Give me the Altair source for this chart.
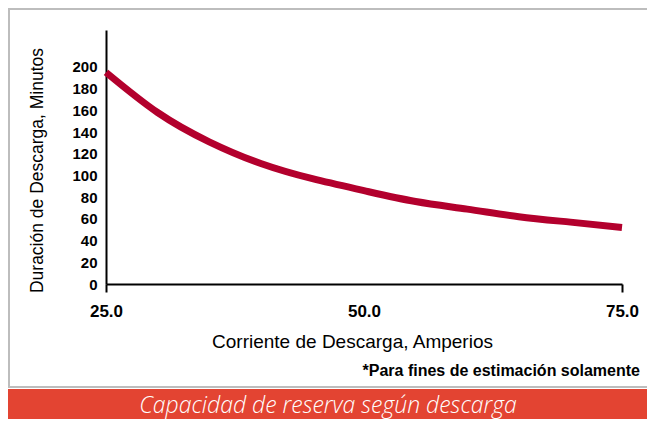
import altair as alt
import pandas as pd

corriente = [25, 30, 35, 40, 45, 50, 55, 60, 65, 70, 75]
minutos = [195, 158, 131, 111, 97, 86, 76, 69, 62, 57, 52]
y_ticks = list(range(0, 201, 20))
x_ticks = [25, 50, 75]
x_title = "Corriente de Descarga, Amperios"
y_title = "Duración de Descarga, Minutos"
footnote = "*Para fines de estimación solamente"
banner = "Capacidad de reserva según descarga"

df = pd.DataFrame({"corriente": corriente, "minutos": minutos})
one = pd.DataFrame({"t": [0]})

W, H = 516, 254
FONT = "Liberation Sans"

line = alt.Chart(df).mark_line(
    color="#B3002D", strokeWidth=7, interpolate="natural", strokeCap="butt"
).encode(
    x=alt.X(
        "corriente:Q",
        scale=alt.Scale(domain=[25, 75], nice=False, zero=False),
        axis=alt.Axis(
            values=x_ticks, format=".1f", title=x_title, labelFlush=False,
            labelFont=FONT, labelFontWeight="bold", labelFontSize=17, labelColor="#000",
            labelPadding=11, tickSize=8, tickWidth=2, tickColor="#000",
            tickOpacity={"condition": {"test": "datum.value == 50", "value": 0}, "value": 1},
            domainColor="#000", domainWidth=2, grid=False,
            titleFont=FONT, titleFontWeight="normal", titleFontSize=19, titleColor="#000",
            titleX=246, titleY=57, titleBaseline="middle", titleAlign="center",
        ),
    ),
    y=alt.Y(
        "minutos:Q",
        scale=alt.Scale(domain=[0, 234], nice=False),
        axis=alt.Axis(
            values=y_ticks, title=y_title,
            labelFont=FONT, labelFontWeight="bold", labelFontSize=15, labelColor="#000",
            labelPadding=9, ticks=False, tickSize=0,
            domainColor="#000", domainWidth=2, grid=False,
            titleFont=FONT, titleFontWeight="normal", titleFontSize=17.5, titleColor="#000",
            titleX=-69, titleY=140, titleBaseline="middle", titleAlign="center", titleAngle=270,
        ),
    ),
)

banner_rect = alt.Chart(one).mark_rect(color="#E34432").encode(
    x=alt.value(-102), x2=alt.value(560), y=alt.value(359), y2=alt.value(400)
)

top_rule = alt.Chart(one).mark_rule(color="#BDBDBD", strokeWidth=2).encode(
    x=alt.value(-98), x2=alt.value(560), y=alt.value(-21)
)
left_rule = alt.Chart(one).mark_rule(color="#BDBDBD", strokeWidth=2).encode(
    x=alt.value(-97), y=alt.value(-22), y2=alt.value(357)
)
bottom_rule = alt.Chart(one).mark_rule(color="#BDBDBD", strokeWidth=2).encode(
    x=alt.value(-98), x2=alt.value(560), y=alt.value(357)
)

foot = alt.Chart(pd.DataFrame({"t": [footnote]})).mark_text(
    font=FONT, fontWeight="bold", fontSize=16, color="#000", align="right", baseline="middle"
).encode(text="t:N", x=alt.value(534), y=alt.value(341))

ban = alt.Chart(pd.DataFrame({"t": [banner]})).mark_text(
    font="Open Sans", fontStyle="italic", fontWeight=300, fontSize=23, color="#FFFFFF",
    align="center", baseline="middle"
).encode(text="t:N", x=alt.value(222), y=alt.value(376))

chart = alt.layer(banner_rect, top_rule, left_rule, bottom_rule, line, foot, ban).properties(
    width=W, height=H,
    autosize=alt.AutoSizeParams(type="none"),
    padding={"left": 98, "top": 22, "right": 25, "bottom": 135},
    background="#FFFFFF",
).configure_view(stroke=None)

chart.save("out.html", embed_options={"renderer": "svg", "actions": False})
